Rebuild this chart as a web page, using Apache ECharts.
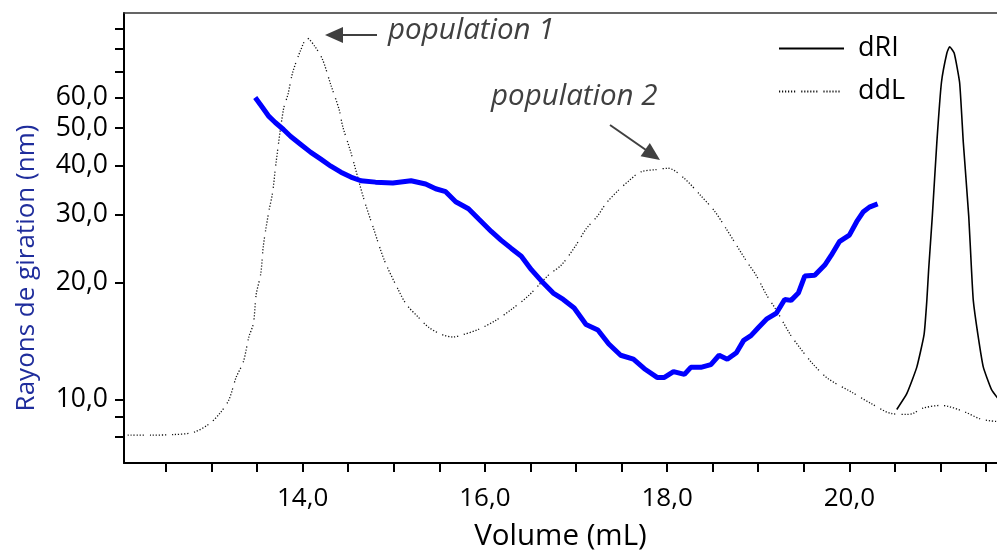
<!DOCTYPE html>
<html>
<head>
<meta charset="utf-8">
<script src="https://cdn.jsdelivr.net/npm/echarts@6/dist/echarts.min.js"></script>
<style>
  html, body { margin: 0; padding: 0; background: #fff; }
  #chart { width: 997px; height: 557px; }
</style>
</head>
<body>
<div id="chart"></div>
<script>
// rayon de giration (nm) vs volume (mL)
const rgVolume = [13.48, 13.56, 13.63, 13.70, 13.79, 13.87, 13.98, 14.09, 14.20, 14.31, 14.42, 14.53, 14.64, 14.80, 14.99, 15.19, 15.35, 15.46, 15.57, 15.68, 15.82, 15.93, 16.07, 16.18, 16.29, 16.40, 16.51, 16.62, 16.75, 16.86, 16.98, 17.11, 17.24, 17.36, 17.49, 17.63, 17.75, 17.89, 17.97, 18.07, 18.19, 18.26, 18.37, 18.48, 18.57, 18.66, 18.76, 18.84, 18.92, 19.00, 19.09, 19.20, 19.29, 19.36, 19.44, 19.51, 19.62, 19.73, 19.80, 19.89, 20.00, 20.08, 20.15, 20.22, 20.31];
const rgValues = [60.0, 56.5, 53.6, 51.7, 49.6, 47.6, 45.4, 43.3, 41.6, 39.9, 38.5, 37.4, 36.6, 36.3, 36.1, 36.6, 35.9, 34.9, 34.3, 32.3, 31.0, 29.2, 27.1, 25.7, 24.5, 23.4, 21.6, 20.2, 18.8, 18.1, 17.2, 15.6, 15.1, 13.9, 13.0, 12.7, 12.0, 11.4, 11.4, 11.8, 11.6, 12.1, 12.1, 12.3, 13.0, 12.7, 13.2, 14.2, 14.6, 15.3, 16.1, 16.7, 18.1, 18.0, 18.8, 20.8, 20.9, 22.2, 23.5, 25.5, 26.5, 28.7, 30.4, 31.3, 31.9];

// signal diffusion de lumiere (ddL), unites relatives
const ddlVolume = [12.08, 12.33, 12.57, 12.80, 12.97, 13.09, 13.19, 13.27, 13.35, 13.41, 13.46, 13.49, 13.54, 13.57, 13.63, 13.67, 13.71, 13.79, 13.84, 13.89, 13.98, 14.05, 14.14, 14.22, 14.31, 14.40, 14.44, 14.53, 14.67, 14.78, 14.90, 15.05, 15.14, 15.27, 15.38, 15.52, 15.65, 15.74, 15.93, 16.12, 16.29, 16.48, 16.70, 16.84, 17.00, 17.11, 17.24, 17.33, 17.46, 17.58, 17.71, 17.88, 18.01, 18.19, 18.37, 18.52, 18.65, 18.87, 18.98, 19.09, 19.20, 19.35, 19.45, 19.60, 19.77, 20.02, 20.24, 20.46, 20.63, 20.70, 20.79, 21.01, 21.26, 21.45, 21.64];
const ddlValues = [6.2, 6.2, 6.3, 6.8, 8.6, 11, 14, 19, 22.5, 28, 31, 37.4, 42, 48.4, 56, 60, 67, 78.6, 82, 86.7, 91.8, 94.4, 92.4, 89.6, 84, 78.6, 74.8, 69, 58.8, 52, 44.9, 38.5, 35.2, 32.4, 30.2, 28.6, 28, 28.4, 29.7, 31.7, 34.1, 37.2, 41.8, 44, 48.4, 52, 55, 57.7, 60.5, 62.7, 64.7, 65.2, 65.5, 63.2, 59.4, 56, 52, 44.9, 41.6, 37.4, 33.9, 28.6, 25.8, 22, 18.7, 15.8, 13.2, 11, 10.8, 11, 12.1, 12.8, 11.4, 9.7, 9.2];

// signal refractometre (dRI)
const driVolume = [20.52, 20.63, 20.74, 20.82, 20.85, 20.87, 20.91, 20.96, 21.01, 21.07, 21.10, 21.15, 21.21, 21.25, 21.31, 21.34, 21.36, 21.41, 21.47, 21.56, 21.64];
const driValues = [11.9, 15.4, 21.3, 28.6, 36.1, 43.0, 54.8, 71.3, 84.5, 91.1, 92.5, 91.1, 84.5, 71.3, 54.8, 43.0, 36.1, 28.6, 21.3, 16.3, 14.1];

const xTicks = [12.5, 13, 13.5, 14, 14.5, 15, 15.5, 16, 16.5, 17, 17.5, 18, 18.5, 19, 19.5, 20, 20.5, 21, 21.5];
const xLabels = [14, 16, 18, 20];
const yTicks = [8, 9, 10, 20, 30, 40, 50, 60, 70, 80, 90];
const yLabels = [10, 20, 30, 40, 50, 60];

const zip = (xs, ys) => xs.map((x, i) => [x, ys[i]]);
const fmt = (v) => Number(v).toFixed(1).replace('.', ',');
const FONT = 'Open Sans';
const dotted = [1.2, 1.8, 1.2, 1.8, 1.2, 1.8, 1.2, 1.8, 1.2, 1.8, 1.2, 6];

const chart = echarts.init(document.getElementById('chart'));

chart.setOption({
    animation: false,
    textStyle: { fontFamily: FONT },
    grid: { left: 124, top: 13, right: 0, bottom: 90 },
    legend: {
        data: ['dRI', 'ddL'],
        orient: 'vertical',
        left: 778,
        top: 33,
        padding: 0,
        itemWidth: 65,
        itemHeight: 14,
        itemGap: 12,
        itemStyle: { opacity: 0 },
        textStyle: { fontFamily: FONT, fontSize: 27, color: '#000', padding: [0, 0, 0, 9], lineHeight: 31 }
    },
    xAxis: [{
        type: 'value',
        min: 12.04,
        max: 21.62,
        name: 'Volume (mL)',
        nameLocation: 'middle',
        nameGap: 59,
        nameTextStyle: { fontFamily: FONT, fontSize: 29.5, color: '#000' },
        axisLine: { lineStyle: { color: '#000', width: 2 } },
        axisTick: { customValues: xTicks, length: 9, lineStyle: { color: '#000', width: 2 } },
        axisLabel: { customValues: xLabels, formatter: fmt, fontSize: 26, color: '#000', margin: 23 },
        splitLine: { show: false }
    }, {
        type: 'value',
        position: 'top',
        min: 12.04,
        max: 21.62,
        axisLine: { onZero: false, lineStyle: { color: '#333', width: 1.5 } },
        axisTick: { show: false },
        axisLabel: { show: false },
        splitLine: { show: false }
    }],
    yAxis: [{
        type: 'log',
        min: 6.86,
        max: 99,
        name: 'Rayons de giration (nm)',
        nameLocation: 'middle',
        nameGap: 84,
        nameTextStyle: { fontFamily: FONT, fontSize: 26, color: '#1f2d9c', padding: [0, 60, 0, 0] },
        axisLine: { show: true, lineStyle: { color: '#000', width: 2 } },
        axisTick: { show: true, customValues: yTicks, length: 9, lineStyle: { color: '#000', width: 2 } },
        axisLabel: { customValues: yLabels, formatter: fmt, fontSize: 26.5, color: '#000', margin: 16 },
        minorTick: { show: false },
        splitLine: { show: false }
    }, {
        type: 'value',
        min: 0,
        max: 100,
        show: false,
        splitLine: { show: false }
    }],
    series: [{
        name: 'ddL',
        type: 'line',
        yAxisIndex: 1,
        data: zip(ddlVolume, ddlValues),
        symbol: 'none',
        smooth: 0.3,
        lineStyle: { color: '#111', width: 1.3, type: dotted },
        itemStyle: { color: '#111' },
        z: 2
    }, {
        name: 'dRI',
        type: 'line',
        yAxisIndex: 1,
        data: zip(driVolume, driValues),
        symbol: 'none',
        smooth: 0.15,
        lineStyle: { color: '#000', width: 1.6 },
        itemStyle: { color: '#000' },
        z: 2
    }, {
        name: 'Rg',
        type: 'line',
        yAxisIndex: 0,
        data: zip(rgVolume, rgValues),
        symbol: 'none',
        lineStyle: { color: '#0000ff', width: 5 },
        itemStyle: { color: '#0000ff' },
        z: 3
    }],
    graphic: [
        { type: 'line', shape: { x1: 377, y1: 35, x2: 342, y2: 35 }, style: { stroke: '#404040', lineWidth: 2 } },
        { type: 'polygon', shape: { points: [[325, 35], [343, 27], [343, 43]] }, style: { fill: '#404040' } },
        { type: 'text', left: 388, top: 16, style: { text: 'population 1', font: 'italic 29.5px "Open Sans"', fill: '#404040' } },
        { type: 'line', shape: { x1: 610, y1: 125, x2: 646, y2: 150 }, style: { stroke: '#404040', lineWidth: 2 } },
        { type: 'polygon', shape: { points: [[660, 160], [640.6, 156.3], [649.8, 143.1]] }, style: { fill: '#404040' } },
        { type: 'text', left: 491, top: 82, style: { text: 'population 2', font: 'italic 29.5px "Open Sans"', fill: '#404040' } }
    ]
});
</script>
</body>
</html>
